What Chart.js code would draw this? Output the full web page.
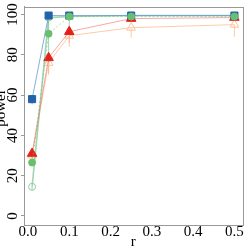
<!DOCTYPE html>
<html>
<head>
<meta charset="utf-8">
<script src="https://cdn.jsdelivr.net/npm/chart.js@4"></script>
<style>
  html, body { margin: 0; padding: 0; background: #fff; }
  #wrap { width: 249px; height: 249px; }
</style>
</head>
<body>
<div id="wrap"><canvas id="powerChart" width="249" height="249"></canvas></div>
<script>
// data
const rValues = [0.01, 0.05, 0.1, 0.25, 0.5];
const xTicks = [0, 0.1, 0.2, 0.3, 0.4, 0.5];
const yTicks = [0, 20, 40, 60, 80, 100];

const blueSquare = [58, 99.5, 99.5, 99.5, 99.5];
const blueLow = [55.5, 98.5, 98.5, 99, 99];
const greenFilled = [26.5, 90.5, 99, 99, 99];
const greenOpen = [14.5, 98.5, 99, 99.5, 99.5];
const greenOpenLow = [12.5, 74, 93, 99, 99];
const redTriangle = [31, 78.5, 91.5, 98, 98.5];
const redLow = [28.5, 71, 86, 97, 97.5];
const orangeTriangle = [30, 76, 89.5, 93.5, 95];
const orangeLow = [27, 70, 84, 88.5, 89];

const serif = "'Liberation Serif', 'DejaVu Serif', serif";

function pts(ys) {
    return rValues.map((x, i) => ({ x: x, y: ys[i] }));
}

// error bars, drawn under the markers
const errorBars = {
    id: 'errorBars',
    beforeDatasetsDraw(chart) {
        const ctx = chart.ctx;
        const xs = chart.scales.x;
        const ys = chart.scales.y;
        chart.data.datasets.forEach(ds => {
            if (!ds.low) return;
            ctx.save();
            ctx.strokeStyle = ds.borderColor;
            ctx.lineWidth = 1;
            ds.data.forEach((p, i) => {
                const px = xs.getPixelForValue(p.x);
                ctx.beginPath();
                ctx.moveTo(px, ys.getPixelForValue(p.y));
                ctx.lineTo(px, ys.getPixelForValue(ds.low[i]));
                ctx.stroke();
            });
            ctx.restore();
        });
    }
};

// box around plot, tick labels, axis titles
const frame = {
    id: 'frame',
    afterDraw(chart) {
        const ctx = chart.ctx;
        const a = chart.chartArea;
        const xs = chart.scales.x;
        const ys = chart.scales.y;
        ctx.save();
        ctx.strokeStyle = '#999';
        ctx.lineWidth = 1;
        ctx.strokeRect(Math.round(a.left) + 0.5, Math.round(a.top) + 0.5,
            Math.round(a.right - a.left), Math.round(a.bottom - a.top));

        ctx.fillStyle = '#000';
        ctx.font = '15px ' + serif;
        ctx.textAlign = 'center';
        ctx.textBaseline = 'middle';
        ys.ticks.forEach(t => {
            ctx.save();
            ctx.translate(13, ys.getPixelForValue(t.value));
            ctx.rotate(-Math.PI / 2);
            ctx.fillText(String(t.value), 0, 0);
            ctx.restore();
        });
        xs.ticks.forEach(t => {
            ctx.fillText(t.value.toFixed(1), xs.getPixelForValue(t.value), 232);
        });

        ctx.save();
        ctx.translate(1, 108);
        ctx.rotate(-Math.PI / 2);
        ctx.fillText('power', 0, 0);
        ctx.restore();

        ctx.fillText('r', (a.left + a.right) / 2, 242);
        ctx.restore();
    }
};

new Chart(document.getElementById('powerChart'), {
    type: 'line',
    data: {
        datasets: [
            {
                label: 'green filled',
                data: pts(greenFilled),
                borderColor: 'rgba(110,190,115,0.55)',
                backgroundColor: '#6abf6e',
                pointStyle: 'circle',
                pointRadius: 3.5,
                pointBorderColor: '#6abf6e',
                borderWidth: 1,
                borderDash: [2, 2]
            },
            {
                label: 'blue',
                data: pts(blueSquare),
                low: blueLow,
                borderColor: 'rgba(90,150,210,0.75)',
                backgroundColor: '#2463a9',
                pointStyle: 'rect',
                pointRadius: 5,
                pointBorderColor: '#2463a9',
                borderWidth: 1
            },
            {
                label: 'red',
                data: pts(redTriangle),
                low: redLow,
                borderColor: 'rgba(240,110,110,0.6)',
                backgroundColor: '#e3201c',
                pointStyle: 'triangle',
                pointRadius: 5.5,
                pointBorderColor: '#e3201c',
                borderWidth: 1
            },
            {
                label: 'green open',
                data: pts(greenOpen),
                low: greenOpenLow,
                borderColor: 'rgba(120,195,150,0.7)',
                backgroundColor: 'rgba(0,0,0,0)',
                pointStyle: 'circle',
                pointRadius: 3.5,
                pointBorderColor: '#8fd0a0',
                pointBorderWidth: 1,
                borderWidth: 1.6
            },
            {
                label: 'orange open',
                data: pts(orangeTriangle),
                low: orangeLow,
                borderColor: 'rgba(253,190,145,0.8)',
                backgroundColor: 'rgba(0,0,0,0)',
                pointStyle: 'triangle',
                pointRadius: 5,
                pointBorderColor: '#fdc39a',
                pointBorderWidth: 1,
                borderWidth: 1
            }
        ]
    },
    options: {
        responsive: false,
        animation: false,
        layout: { padding: { top: 5, right: 6, left: 0, bottom: 0 } },
        plugins: {
            legend: { display: false },
            tooltip: { enabled: false }
        },
        elements: { line: { tension: 0 } },
        scales: {
            x: {
                type: 'linear',
                min: -0.0096,
                max: 0.5196,
                afterBuildTicks: s => { s.ticks = xTicks.map(v => ({ value: v })); },
                afterFit: s => { s.height = 25; },
                grid: { display: false, drawTicks: false },
                border: { display: false },
                ticks: { display: false }
            },
            y: {
                type: 'linear',
                min: -4,
                max: 104,
                afterBuildTicks: s => { s.ticks = yTicks.map(v => ({ value: v })); },
                afterFit: s => { s.width = 24; },
                grid: { drawOnChartArea: false, tickLength: 3, color: '#999' },
                border: { display: true, color: '#999' },
                ticks: { display: false }
            }
        }
    },
    plugins: [errorBars, frame]
});
</script>
</body>
</html>
